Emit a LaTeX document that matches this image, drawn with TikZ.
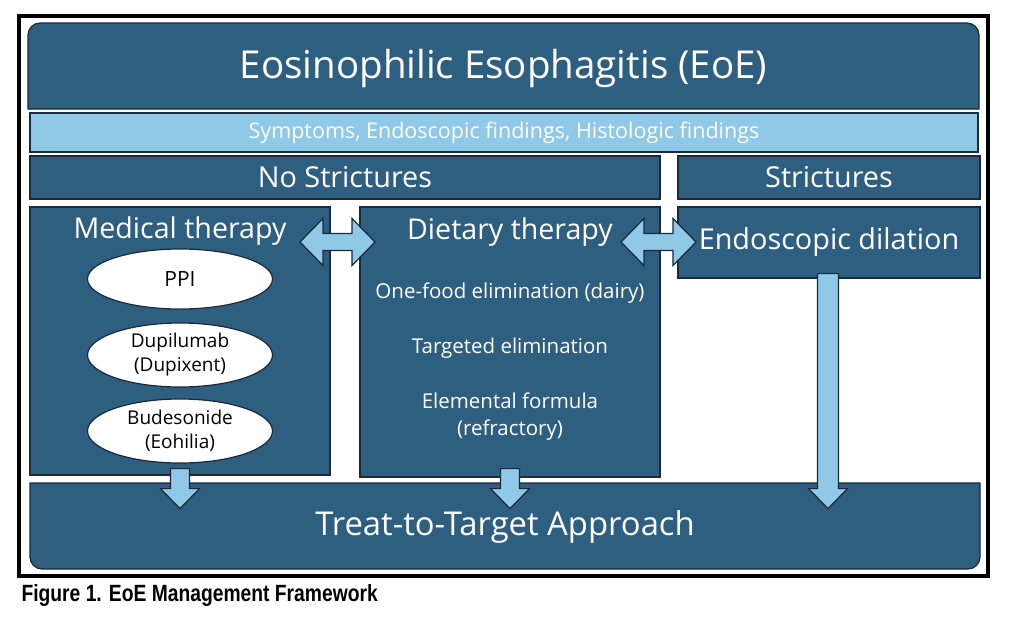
\documentclass[tikz,border=0pt]{standalone}
\usepackage{fontspec}
\setmainfont{Open Sans}
\newfontfamily\capfont{Liberation Sans}[FakeStretch=0.82]
\usetikzlibrary{shapes.geometric}
\definecolor{eoeblue}{RGB}{46,94,128}
\definecolor{eoelight}{RGB}{144,200,232}
\definecolor{eoeedge}{RGB}{26,42,58}

\begin{document}
\begin{tikzpicture}[x=1pt, y=-1pt,
		panel/.style={draw=eoeedge, fill=eoeblue, line width=1.2pt, text=white, inner sep=0pt},
		drug/.style={ellipse, draw=eoeedge, fill=white, line width=1.2pt, text=black,
			minimum width=185pt, inner sep=0pt, align=center, font=\fontsize{19}{24}\selectfont},
		item/.style={text=white, align=center, font=\fontsize{20.5}{27}\selectfont},
		barrow/.style={draw=eoeedge, fill=eoelight, line width=1.2pt}
	]
		\useasboundingbox (0,0) rectangle (1024,627);
		\draw[line width=3.5pt] (19,16) rectangle (988,576);

		% header and filters
		\path[panel] (28,109) -- (28,35) arc[start angle=180, end angle=270, radius=12]
			-- (967,23) arc[start angle=270, end angle=360, radius=12] -- (979,109) -- cycle;
		\node[text=white, font=\fontsize{38.5}{44}\selectfont] (title) at (503.5,68) {Eosinophilic Esophagitis (EoE)};

		\node[panel, fill=eoelight, minimum width=948pt, minimum height=39pt,
			font=\fontsize{21.5}{24}\selectfont] (sympt) at (504,132.5) {Symptoms, Endoscopic findings, Histologic findings};
		\node[panel, minimum width=630pt, minimum height=43pt,
			font=\fontsize{28.8}{32}\selectfont] (nostr) at (345,177.5) {No Strictures};
		\node[panel, minimum width=302pt, minimum height=43pt,
			font=\fontsize{28.8}{32}\selectfont] (str) at (829,177.5) {Strictures};

		% therapy columns
		\node[panel, minimum width=300pt, minimum height=268pt] (med) at (180,341) {};
		\node[text=white, font=\fontsize{28.6}{32}\selectfont] (medlbl) at (180,231) {Medical therapy};
		\node[drug, minimum height=60pt, font=\fontsize{21}{24}\selectfont] (ppi) at (180,279) {PPI};
		\node[drug, minimum height=64pt] (dupi) at (180,355) {Dupilumab\\(Dupixent)};
		\node[drug, minimum height=64pt] (bude) at (180,431) {Budesonide\\(Eohilia)};

		\node[panel, minimum width=300pt, minimum height=270pt] (diet) at (510,342) {};
		\node[text=white, font=\fontsize{28.6}{32}\selectfont] (dietlbl) at (510,232) {Dietary therapy};
		\node[item] (onefood) at (510,293) {One-food elimination (dairy)};
		\node[item] (target) at (510,348) {Targeted elimination};
		\node[item] (elem) at (510,417) {Elemental formula\\(refractory)};

		\node[panel, minimum width=302pt, minimum height=71pt,
			font=\fontsize{28.8}{32}\selectfont] (endo) at (829,242.5) {Endoscopic dilation};

		% outcome
		\path[panel] (30,483) -- (30,557) arc[start angle=180, end angle=90, radius=12]
			-- (968,569) arc[start angle=90, end angle=0, radius=12] -- (980,483) -- cycle;
		\node[text=white, font=\fontsize{32.8}{38}\selectfont] (treat) at (505,527) {Treat-to-Target Approach};

		% block arrows
		\draw[barrow] (300,242) -- ++(23,-23.5) -- ++(0,15) -- ++(29,0) -- ++(0,-15) -- ++(23,23.5)
			-- ++(-23,23.5) -- ++(0,-15) -- ++(-29,0) -- ++(0,15) -- cycle;
		\draw[barrow] (621,242) -- ++(23,-23.5) -- ++(0,15) -- ++(29,0) -- ++(0,-15) -- ++(23,23.5)
			-- ++(-23,23.5) -- ++(0,-15) -- ++(-29,0) -- ++(0,15) -- cycle;
		\draw[barrow] ([shift={(-9.5,-7)}]med.south) -- ++(19,0) -- ++(0,20) -- ++(10,0) -- ++(-19.5,20)
			-- ++(-19.5,-20) -- ++(10,0) -- cycle;
		\draw[barrow] ([shift={(-9.5,-9)}]diet.south) -- ++(19,0) -- ++(0,20) -- ++(10,0) -- ++(-19.5,20)
			-- ++(-19.5,-20) -- ++(10,0) -- cycle;
		\draw[barrow] ([shift={(-11.5,-5)}]endo.south) -- ++(21,0) -- ++(0,215) -- ++(9,0) -- ++(-19.5,20)
			-- ++(-19.5,-20) -- ++(9,0) -- cycle;

		\node[anchor=west, font=\capfont\bfseries\fontsize{23.5}{26}\selectfont] (caption) at (18,595) {Figure 1. EoE Management Framework};
	\end{tikzpicture}
\end{document}
